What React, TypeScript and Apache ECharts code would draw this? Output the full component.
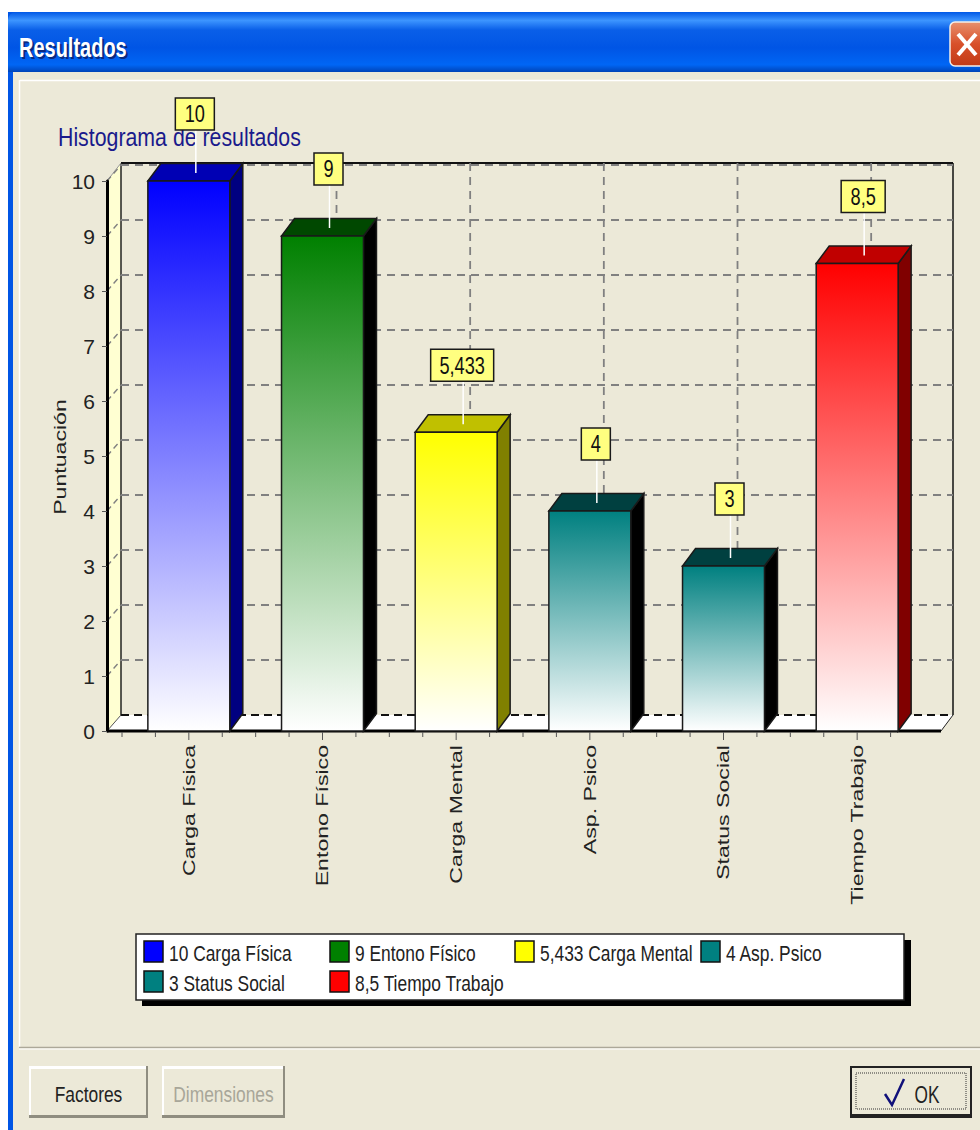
import React, { useEffect, useRef } from "react";
import * as echarts from "echarts";

const categories = ["Carga Física", "Entono Físico", "Carga Mental", "Asp. Psico", "Status Social", "Tiempo Trabajo"];
const values = [10, 9, 5.433, 4, 3, 8.5];
const valueLabels = ["10", "9", "5,433", "4", "3", "8,5"];
const yTicks = [0, 1, 2, 3, 4, 5, 6, 7, 8, 9, 10];
const frontColors = ["#0000ff", "#008000", "#ffff00", "#008080", "#008080", "#ff0000"];
const topColors = ["#0000b4", "#004800", "#c0c000", "#004040", "#004040", "#c00000"];
const sideColors = ["#000080", "#000000", "#808000", "#000000", "#000000", "#800000"];
const legendLabels = ["10 Carga Física", "9 Entono Físico", "5,433 Carga Mental", "4 Asp. Psico", "3 Status Social", "8,5 Tiempo Trabajo"];
const legendColors = ["#0000ff", "#008000", "#ffff00", "#008080", "#008080", "#ff0000"];

const SANS = "'Liberation Sans', Arial, sans-serif";
const BG = "#ECE9D8";
const DX = 14;
const DY = 18;
const GRID_DY = 16;
const NARROW_SCALE = 0.79;

function line(x1: number, y1: number, x2: number, y2: number, style: any) {
  return { type: "line", shape: { x1, y1, x2, y2 }, style };
}
function poly(points: number[][], style: any) {
  return { type: "polygon", shape: { points }, style };
}

function renderFrame(params: any, api: any) {
  const g = params.coordSys;
  const x0 = g.x - 15;
  const xR = g.x + g.width + 17;
  const b = g.y + g.height;
  const t = g.y;
  const bx = g.x - 1;
  const brx = xR + 12;
  const children: any[] = [
    poly([[x0, t], [bx, t - DY], [bx, b - GRID_DY], [x0, b]], { fill: "#FFFFD2", stroke: "#FFFFD2", lineWidth: 0 }),
    poly([[x0, b], [bx, b - GRID_DY], [brx, b - GRID_DY], [xR, b]], { fill: "#ffffff", stroke: "#ffffff", lineWidth: 0 }),
    line(bx, t - DY, bx, b - GRID_DY, { stroke: "#222", lineWidth: 1.5 }),
    line(brx, t - DY, brx, b - GRID_DY, { stroke: "#111", lineWidth: 1.5 }),
    line(bx, t - DY, brx, t - DY, { stroke: "#111", lineWidth: 2 }),
    line(x0, t, bx, t - DY, { stroke: "#999", lineWidth: 1 }),
    line(bx, b - GRID_DY, brx, b - GRID_DY, { stroke: "#111", lineWidth: 1.8, lineDash: [8, 5] }),
    line(x0, b, bx, b - GRID_DY, { stroke: "#555", lineWidth: 1 }),
    line(xR, b, brx, b - GRID_DY, { stroke: "#222", lineWidth: 1 }),
    line(x0, b, xR, b, { stroke: "#000", lineWidth: 3 }),
  ];
  return { type: "group", children };
}

function renderGridY(params: any, api: any) {
  const g = params.coordSys;
  const y = api.coord([0, api.value(1)])[1];
  const bx = g.x - 1;
  const brx = g.x + g.width + 29;
  if (api.value(1) === 0) return { type: "group", children: [] };
  return {
    type: "group",
    children: [
      line(g.x - 15, y, bx, y - GRID_DY, { stroke: "#808080", lineWidth: 1.4, lineDash: [6, 4] }),
      line(bx, y - GRID_DY, brx, y - GRID_DY, { stroke: "#808080", lineWidth: 1.8, lineDash: [8, 6] }),
    ],
  };
}

function renderGridX(params: any, api: any) {
  const g = params.coordSys;
  const c = api.coord([api.value(0), 0]);
  const band = api.size([1, 0])[0];
  const ticks = [-0.5, -0.25, 0, 0.25].map((f) => {
    const x = c[0] + f * band;
    return line(x, c[1] + 1, x, c[1] + (f === 0 ? 9 : 6), { stroke: "#555", lineWidth: 1 });
  });
  const cx = c[0] + DX;
  return {
    type: "group",
    children: [
      line(cx, g.y - DY, cx, g.y + g.height - GRID_DY, { stroke: "#808080", lineWidth: 1.8, lineDash: [8, 6] }),
      ...ticks,
    ],
  };
}

function renderBar(params: any, api: any) {
  const i = api.value(0);
  const top = api.coord([i, api.value(1)]);
  const base = api.coord([i, 0]);
  const w = api.size([1, 0])[0] * 0.613;
  const l = top[0] - w / 2;
  const r = top[0] + w / 2;
  const color = frontColors[i];
  const border = { stroke: "#1a1a1a", lineWidth: 1.5 };
  const d = 17.5;
  return {
    type: "group",
    children: [
      poly([[r, top[1]], [r + 13, top[1] - d], [r + 13, base[1] - d], [r, base[1]]], { fill: sideColors[i], ...border }),
      poly([[l, top[1]], [l + 13, top[1] - d], [r + 13, top[1] - d], [r, top[1]]], { fill: topColors[i], ...border }),
      {
        type: "rect",
        shape: { x: l, y: top[1], width: w, height: base[1] - top[1] },
        style: {
          fill: new echarts.graphic.LinearGradient(0, 0, 0, 1, [
            { offset: 0, color },
            { offset: 1, color: "#ffffff" },
          ]),
          ...border,
        },
      },
    ],
  };
}

function renderCallout(params: any, api: any) {
  const i = api.value(0);
  const top = api.coord([i, api.value(1)]);
  const txt = valueLabels[i];
  const cx = top[0] + 6;
  const w = txt.length === 1 ? 29 : txt.length === 2 ? 39 : txt.length === 3 ? 44 : 63;
  const yb = top[1] - 51;
  const h = 32;
  return {
    type: "group",
    children: [
      line(cx + 1, yb, cx + 1, top[1] - 8, { stroke: "#ffffff", lineWidth: 1.5 }),
      {
        type: "rect",
        shape: { x: cx - w / 2, y: yb - h, width: w, height: h },
        style: { fill: "#FFFF80", stroke: "#1a1a1a", lineWidth: 1.5 },
      },
      {
        type: "text",
        x: cx,
        y: yb - h / 2,
        scaleX: NARROW_SCALE,
        style: { text: txt, align: "center", verticalAlign: "middle", fontFamily: SANS, fontSize: 23, fill: "#111" },
      },
    ],
  };
}

function renderXLabel(params: any, api: any) {
  const i = api.value(0);
  const c = api.coord([i, 0]);
  return {
    type: "text",
    x: c[0],
    y: c[1] + 14,
    rotation: Math.PI / 2,
    scaleX: 1.36,
    style: { text: categories[i], align: "right", verticalAlign: "middle", fontFamily: SANS, fontSize: 17, fill: "#222" },
  };
}

function button(x: number, w: number, label: string, color: string) {
  const y = 1066;
  const h = 52;
  return [
    { type: "rect", shape: { x, y, width: w, height: h }, style: { fill: "#8f8d80" } },
    { type: "rect", shape: { x, y, width: w - 2, height: h - 3 }, style: { fill: "#ffffff" } },
    { type: "rect", shape: { x: x + 2, y: y + 3, width: w - 4, height: h - 6 }, style: { fill: BG } },
    { type: "text", x: x + w / 2, y: y + h / 2 + 2, scaleX: NARROW_SCALE, style: { text: label, align: "center", verticalAlign: "middle", fontFamily: SANS, fontSize: 22, fill: color } },
  ];
}

function chromeGraphics() {
  const title = new echarts.graphic.LinearGradient(0, 0, 0, 1, [
    { offset: 0, color: "#0058E6" },
    { offset: 0.14, color: "#3D95FF" },
    { offset: 0.3, color: "#0A5FE8" },
    { offset: 0.6, color: "#0055E5" },
    { offset: 0.88, color: "#0066F5" },
    { offset: 1, color: "#0044B8" },
  ]);
  const closeFill = new echarts.graphic.LinearGradient(0, 0, 0, 1, [
    { offset: 0, color: "#E8906E" },
    { offset: 0.5, color: "#D8502A" },
    { offset: 1, color: "#C23A16" },
  ]);
  const els: any[] = [
    { type: "rect", shape: { x: 8, y: 12, width: 972, height: 1118 }, style: { fill: "#0055E5" } },
    { type: "rect", shape: { x: 13, y: 72, width: 967, height: 1058 }, style: { fill: BG } },
    { type: "rect", shape: { x: 8, y: 12, width: 972, height: 60, r: [8, 0, 0, 0] }, style: { fill: title } },
    { type: "text", x: 21, y: 49, scaleX: 0.74, style: { text: "Resultados", align: "left", verticalAlign: "middle", fontFamily: SANS, fontWeight: "bold", fontSize: 27, fill: "#0A2A80" } },
    { type: "text", x: 19, y: 47, scaleX: 0.74, style: { text: "Resultados", align: "left", verticalAlign: "middle", fontFamily: SANS, fontWeight: "bold", fontSize: 27, fill: "#ffffff" } },
    { type: "rect", shape: { x: 950, y: 22, width: 40, height: 44, r: 5 }, style: { fill: closeFill, stroke: "#F3F0EA", lineWidth: 1.5 } },
    { type: "line", shape: { x1: 958, y1: 34, x2: 976, y2: 55 }, style: { stroke: "#ffffff", lineWidth: 4 } },
    { type: "line", shape: { x1: 976, y1: 34, x2: 958, y2: 55 }, style: { stroke: "#ffffff", lineWidth: 4 } },
    { type: "line", shape: { x1: 20, y1: 80.5, x2: 980, y2: 80.5 }, style: { stroke: "#ffffff", lineWidth: 1.5 } },
    { type: "line", shape: { x1: 19.5, y1: 80, x2: 19.5, y2: 1047 }, style: { stroke: "#ffffff", lineWidth: 1.5 } },
    { type: "line", shape: { x1: 19, y1: 1047.5, x2: 980, y2: 1047.5 }, style: { stroke: "#ACA899", lineWidth: 1.5 } },
    { type: "line", shape: { x1: 19, y1: 1049, x2: 980, y2: 1049 }, style: { stroke: "#ffffff", lineWidth: 1 } },
    { type: "text", x: 58, y: 137, scaleX: 0.82, style: { text: "Histograma de resultados", align: "left", verticalAlign: "middle", fontFamily: SANS, fontSize: 26, fill: "#1a1a8c" } },
    { type: "text", x: 60, y: 457, rotation: Math.PI / 2, scaleX: 1.36, style: { text: "Puntuación", align: "center", verticalAlign: "middle", fontFamily: SANS, fontSize: 17, fill: "#222" } },
    { type: "rect", shape: { x: 142, y: 940, width: 769, height: 66 }, style: { fill: "#000" } },
    { type: "rect", shape: { x: 136, y: 934, width: 768, height: 66 }, style: { fill: "#fff", stroke: "#222", lineWidth: 1.5 } },
  ];
  const colX = [144, 330, 515, 701];
  legendLabels.forEach((label, i) => {
    const col = i % 4;
    const row = Math.floor(i / 4);
    const y = 941 + row * 30;
    els.push({ type: "rect", shape: { x: colX[col], y, width: 19, height: 21 }, style: { fill: legendColors[i], stroke: "#111", lineWidth: 1.5 } });
    els.push({ type: "text", x: colX[col] + 25, y: y + 12, scaleX: NARROW_SCALE, style: { text: label, align: "left", verticalAlign: "middle", fontFamily: SANS, fontSize: 22, fill: "#222" } });
  });
  els.push(...button(29, 119, "Factores", "#222"));
  els.push(...button(162, 123, "Dimensiones", "#A8A699"));
  els.push(
    { type: "rect", shape: { x: 850, y: 1066, width: 122, height: 52 }, style: { fill: "#222" } },
    { type: "rect", shape: { x: 852, y: 1068, width: 118, height: 46 }, style: { fill: BG } },
    { type: "rect", shape: { x: 856, y: 1073, width: 110, height: 36 }, style: { fill: "none", stroke: "#333", lineWidth: 1, lineDash: [1, 1] } },
    { type: "polyline", shape: { points: [[885, 1094], [892, 1105], [904, 1079]] }, style: { stroke: "#10107a", lineWidth: 2.5, fill: "none" } },
    { type: "text", x: 927, y: 1094, scaleX: 0.72, style: { text: "OK", align: "center", verticalAlign: "middle", fontFamily: SANS, fontSize: 24, fill: "#222" } }
  );
  return els;
}

export default function App() {
  const ref = useRef<HTMLDivElement>(null);
  useEffect(() => {
    document.body.style.margin = "0";
    const chart = echarts.init(ref.current!, null, { renderer: "svg" });
    const catData = categories.map((_, i) => [i, values[i]]);
    chart.setOption({
      animation: false,
      backgroundColor: "#ffffff",
      textStyle: { fontFamily: SANS },
      grid: { left: 122, top: 181, width: 802, height: 550, containLabel: false },
      graphic: { elements: chromeGraphics() },
      xAxis: {
        type: "category",
        data: categories,
        z: 5,
        axisLine: { show: false },
        axisTick: { show: false },
        axisLabel: { show: false },
        splitLine: { show: false },
      },
      yAxis: {
        type: "value",
        min: 0,
        max: 10,
        interval: 1,
        offset: 15,
        z: 5,
        axisLine: { show: true, lineStyle: { color: "#000", width: 3 } },
        axisTick: { show: true, length: 5, lineStyle: { color: "#555", width: 1 } },
        axisLabel: { margin: 12, fontFamily: SANS, fontSize: 21, color: "#222" },
        splitLine: { show: false },
      },
      series: [
        { type: "custom", name: "frame", renderItem: renderFrame, data: [[0, 0]], silent: true, clip: false },
        { type: "custom", name: "gridY", renderItem: renderGridY, data: yTicks.map((v) => [0, v]), silent: true, clip: false },
        { type: "custom", name: "gridX", renderItem: renderGridX, data: categories.map((_, i) => [i, 0]), silent: true, clip: false },
        { type: "custom", name: "bars", renderItem: renderBar, data: catData, clip: false },
        { type: "custom", name: "callouts", renderItem: renderCallout, data: catData, silent: true, clip: false },
        { type: "custom", name: "xLabels", renderItem: renderXLabel, data: catData, silent: true, clip: false },
      ],
    });
    return () => chart.dispose();
  }, []);
  return <div ref={ref} style={{ width: 980, height: 1130, position: "absolute", left: 0, top: 0 }} />;
}
